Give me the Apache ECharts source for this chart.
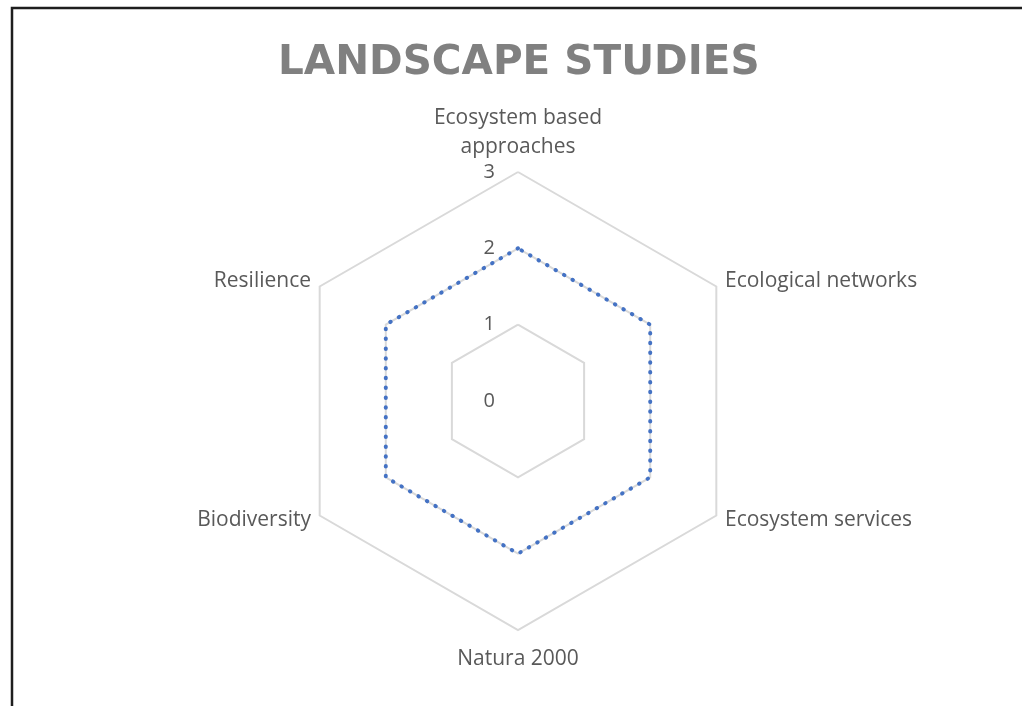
<!DOCTYPE html>
<html>
<head>
<meta charset="utf-8">
<script src="https://cdn.jsdelivr.net/npm/echarts@6/dist/echarts.min.js"></script>
<style>
html,body{margin:0;padding:0;background:#fff;}
#main{width:1022px;height:706px;}
</style>
</head>
<body>
<div id="main"></div>
<script>
// Indicators listed counter-clockwise from top (ECharts radar order)
const indicatorNames = ['Ecosystem based\napproaches', 'Resilience', 'Biodiversity', 'Natura 2000', 'Ecosystem services', 'Ecological networks'];
const seriesValues = [2, 2, 2, 2, 2, 2];
const axisMax = 3;
const axisSplits = 3;

const chart = echarts.init(document.getElementById('main'));
const textColor = '#595959';
chart.setOption({
  animation: false,
  title: {
    text: 'LANDSCAPE STUDIES',
    left: 273,
    top: 38,
    textStyle: {fontFamily: 'DejaVu Sans', fontWeight: 'bold', fontSize: 40.5, color: '#808080'}
  },
  graphic: [{
    type: 'polyline',
    shape: {points: [[12, 706], [12, 8], [1022, 8]]},
    style: {stroke: '#1e1e1e', lineWidth: 2.5, fill: null}
  }],
  radar: {
    center: [518, 401],
    radius: 229,
    startAngle: 90,
    min: 0,
    max: axisMax,
    splitNumber: axisSplits,
    shape: 'polygon',
    nameGap: 10,
    axisName: {color: textColor, fontFamily: 'Open Sans', fontSize: 21, lineHeight: 29, padding: [5, 0, 0, 0]},
    axisLine: {show: false},
    axisTick: {show: false},
    splitLine: {lineStyle: {color: '#d9d9d9', width: 2}},
    splitArea: {show: false},
    axisLabel: {show: false},
    indicator: indicatorNames.map((n, i) => {
      const o = {name: n, min: 0, max: axisMax};
      if (i === 0) o.axisLabel = {show: true, color: textColor, fontFamily: 'Open Sans', fontSize: 20, margin: 23, padding: [12, 0, 0, 0]};
      return o;
    })
  },
  series: [{
    type: 'radar',
    symbol: 'none',
    data: [{
      value: seriesValues,
      lineStyle: {color: '#4472C4', width: 4, type: [0.5, 9.3], cap: 'round'}
    }]
  }]
});
</script>
</body>
</html>
